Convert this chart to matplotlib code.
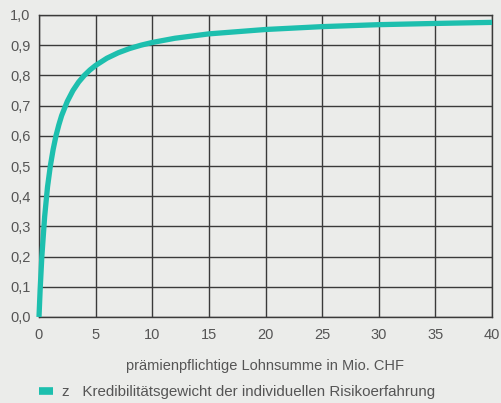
import matplotlib
matplotlib.use("Agg")
import matplotlib.pyplot as plt
from matplotlib.ticker import FuncFormatter
from matplotlib.lines import Line2D

x_vals = [0, 0.1, 0.25, 0.5, 0.75, 1, 1.25, 1.5, 1.75, 2, 2.5, 3, 3.5, 4, 4.5, 5, 6, 7, 8, 9, 10,
          12, 15, 20, 25, 30, 35, 40]
z_vals = [0, 0.09, 0.2, 0.333, 0.43, 0.5, 0.555, 0.6, 0.636, 0.667, 0.714, 0.75, 0.778, 0.8, 0.818,
          0.833, 0.857, 0.875, 0.889, 0.9, 0.909, 0.923, 0.9375, 0.952, 0.9615, 0.968, 0.972, 0.9756]
x_ticks = [0, 5, 10, 15, 20, 25, 30, 35, 40]
y_ticks = [0.0, 0.1, 0.2, 0.3, 0.4, 0.5, 0.6, 0.7, 0.8, 0.9, 1.0]
x_label = "prämienpflichtige Lohnsumme in Mio. CHF"
legend_label = "z   Kredibilitätsgewicht der individuellen Risikoerfahrung"

bg = "#ebecea"
teal = "#1dbfae"
txt = "#555555"
gridc = "#3a3a3a"

plt.rcParams['font.family'] = ['Liberation Sans', 'DejaVu Sans']

fig = plt.figure(figsize=(5.02, 4.03), dpi=100, facecolor=bg)
ax = fig.add_axes([39/502, 1-317/403, (492-39)/502, (317-15)/403])
ax.set_facecolor(bg)

line, = ax.plot(x_vals, z_vals, color=teal, lw=3.8, solid_capstyle='butt',
                solid_joinstyle='round', clip_on=False, zorder=3)

ax.set_xlim(0, 40)
ax.set_ylim(0, 1.0)
ax.set_xticks(x_ticks)
ax.set_yticks(y_ticks)
ax.yaxis.set_major_formatter(FuncFormatter(lambda v, p: f"{v:.1f}".replace(".", ",")))
ax.grid(True, color=gridc, lw=1.0)
ax.set_axisbelow(True)
for s in ax.spines.values():
    s.set_color(gridc)
    s.set_linewidth(1.0)
ax.tick_params(axis='y', length=0, labelsize=10.5, colors=txt, pad=6)
ax.tick_params(axis='x', length=0, labelsize=10.5, colors=txt, pad=8)
ax.set_xlabel(x_label, fontsize=10.5, color=txt, labelpad=12)

h = Line2D([], [], color=teal, lw=5.5, solid_capstyle='butt')
leg = fig.legend(handles=[h], labels=[legend_label], loc='lower left',
                 bbox_to_anchor=(39/502, 4/403), frameon=False, fontsize=10.9,
                 borderaxespad=0, borderpad=0,
                 handlelength=0.93, handletextpad=0.6, labelcolor=txt)

fig.savefig("out.png", dpi=100, facecolor=bg)
